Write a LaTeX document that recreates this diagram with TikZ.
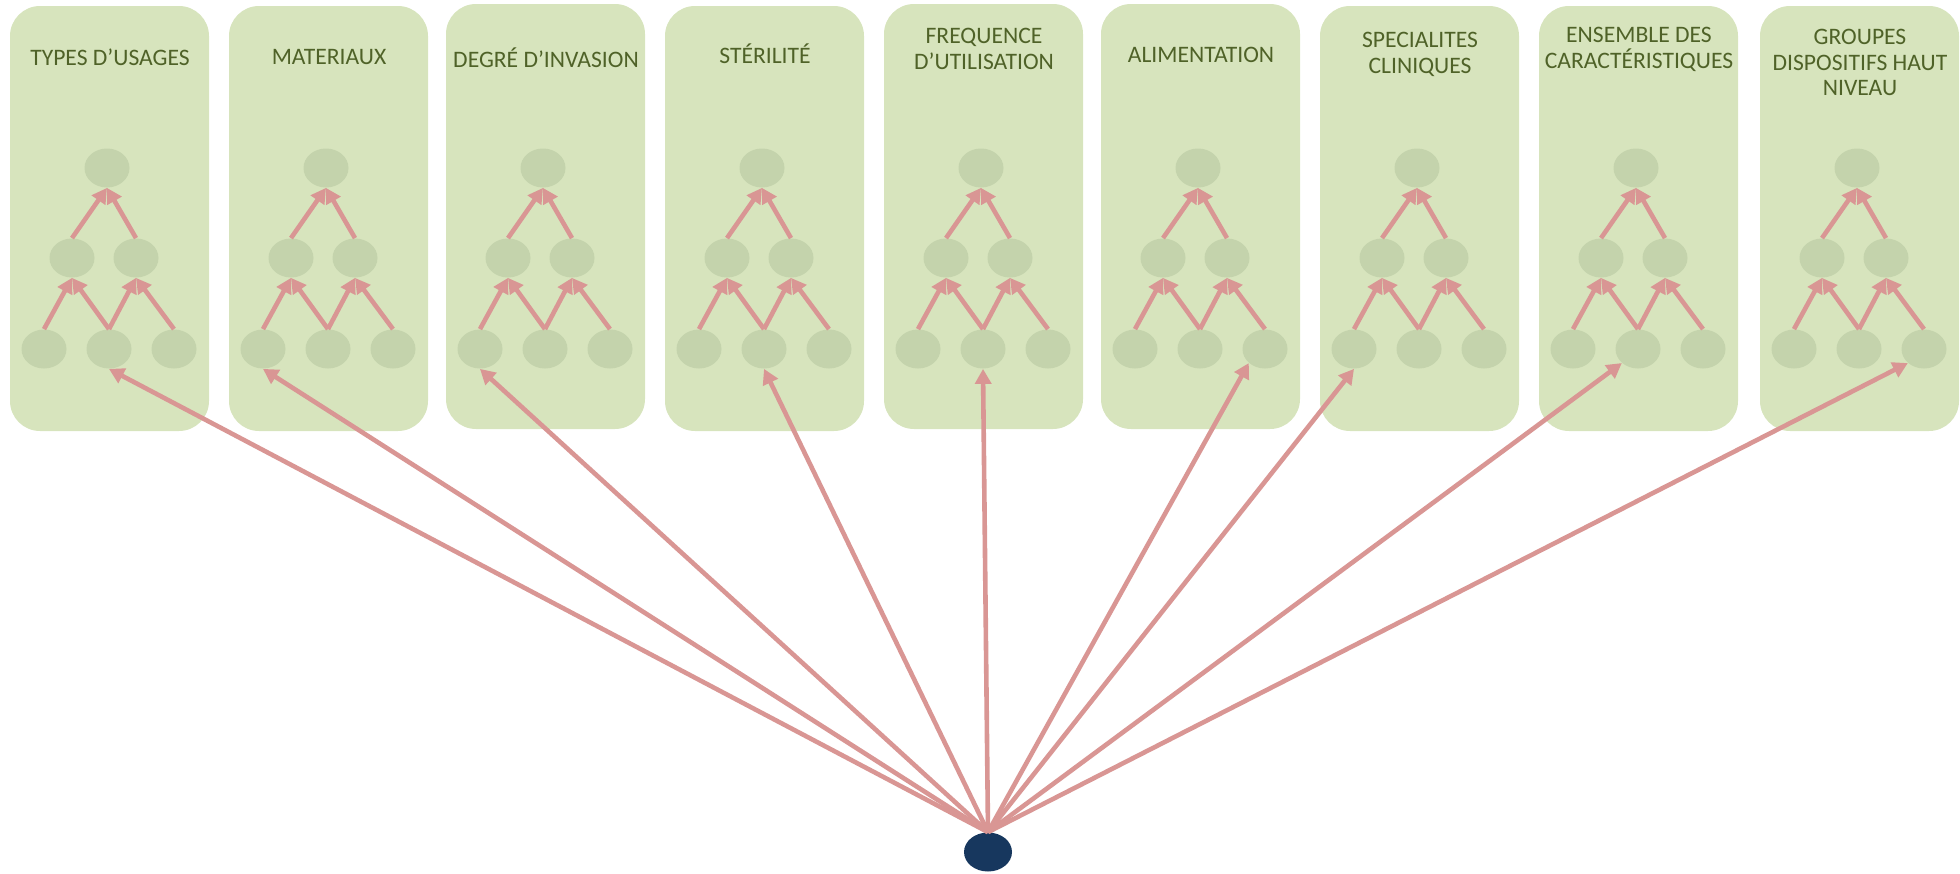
\documentclass[tikz,border=0pt]{standalone}
\usepackage{fontspec}
\setmainfont{Carlito}
\usetikzlibrary{arrows.meta, shapes.geometric}
\definecolor{PanelGreen}{RGB}{215,228,189}
\definecolor{LeafGreen}{RGB}{196,211,172}
\definecolor{TitleOlive}{RGB}{79,98,40}
\definecolor{LinkRose}{RGB}{217,150,148}
\definecolor{RootNavy}{RGB}{23,55,94}

\begin{document}
\begin{tikzpicture}[x=0.5pt, y=-0.5pt,
    panel/.style={fill=PanelGreen, rounded corners=15pt},
    leaf/.style={ellipse, fill=LeafGreen, minimum width=22.5pt, minimum height=19.5pt, inner sep=0pt},
    link/.style={-{Triangle[length=7.5pt,width=8pt]}, LinkRose, line width=2.3pt},
    title/.style={text=TitleOlive, align=center, font=\fontsize{11.8}{12.8}\selectfont}]
  \useasboundingbox (0,0) rectangle (1960,873);
  \foreach \i/\xl/\yt/\ly/\lab in {1/10/6/57.5/{TYPES D’USAGES},
                                   2/229/6/57.5/{MATERIAUX},
                                   3/446/4/57.5/{DEGRÉ D’INVASION},
                                   4/665/6/54/{STÉRILITÉ},
                                   5/884/4/49/{FREQUENCE\\D’UTILISATION},
                                   6/1101/4/55/{ALIMENTATION},
                                   7/1320/6/54.5/{SPECIALITES\\CLINIQUES},
                                   8/1539/6/49.5/{ENSEMBLE DES\\CARACTÉRISTIQUES},
                                   9/1760/6/62.5/{GROUPES\\DISPOSITIFS HAUT\\NIVEAU}}
  {
    \fill[panel] (\xl,\yt) rectangle ++(199,425);
    \node[title] (lab\i) at (\xl+100,\ly) {\lab};
    \node[leaf] (p\i-t)  at (\xl+97,168) {};
    \node[leaf] (p\i-m1) at (\xl+62,258) {};
    \node[leaf] (p\i-m2) at (\xl+126,258) {};
    \node[leaf] (p\i-b1) at (\xl+34,349) {};
    \node[leaf] (p\i-b2) at (\xl+99,349) {};
    \node[leaf] (p\i-b3) at (\xl+164,349) {};
    \draw[link] (p\i-b1.north) -- (p\i-m1.south);
    \draw[link] (p\i-b2.north) -- (p\i-m1.south);
    \draw[link] (p\i-b2.north) -- (p\i-m2.south);
    \draw[link] (p\i-b3.north) -- (p\i-m2.south);
    \draw[link] (p\i-m1.north) -- (p\i-t.south);
    \draw[link] (p\i-m2.north) -- (p\i-t.south);
  }
  \node[ellipse, fill=RootNavy, minimum width=24pt, minimum height=19.5pt, inner sep=0pt] (root) at (988,852) {};
  \foreach \i/\tgt in {1/b2.south, 2/b1.south, 3/b1.south, 4/b2.south, 5/b2.south,
                       6/b3.south west, 7/b1.south, 8/b2.south west, 9/b3.south west}
    \draw[link] (root.north) -- (p\i-\tgt);
\end{tikzpicture}
\end{document}
